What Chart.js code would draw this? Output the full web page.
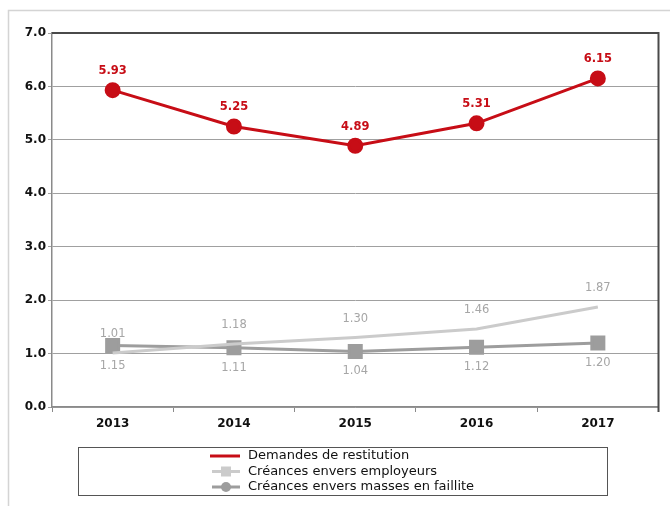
<!DOCTYPE html>
<html>
<head>
<meta charset="utf-8">
<script src="https://cdn.jsdelivr.net/npm/chart.js@4"></script>
<style>
  html, body { margin: 0; padding: 0; background: #fff; }
  #wrap { width: 670px; height: 506px; position: relative; }
</style>
</head>
<body>
<div id="wrap"><canvas id="js_chart" width="670" height="506"></canvas></div>
<script>
// chart data
const years = ['2013', '2014', '2015', '2016', '2017'];
const restitution = [5.93, 5.25, 4.89, 5.31, 6.15];
const employeurs = [1.01, 1.18, 1.30, 1.46, 1.87];
const faillite = [1.15, 1.11, 1.04, 1.12, 1.20];
const seriesNames = ['Demandes de restitution', 'Créances envers employeurs', 'Créances envers masses en faillite'];

// colours
const red = '#c70d16';
const lightGrey = '#cbcbcb';
const darkGrey = '#9d9d9d';
const font = "'DejaVu Sans', sans-serif";

// value labels: offset in px above (-) or below (+) the point
const labelPlugin = {
  id: 'valueLabels',
  afterDatasetsDraw(chart) {
    const { ctx } = chart;
    const offsets = [-19, -19, 20];
    const colors = [red, '#a6a6a6', '#a6a6a6'];
    ctx.save();
    ctx.textAlign = 'center';
    ctx.textBaseline = 'middle';
    chart.data.datasets.forEach((ds, i) => {
      const meta = chart.getDatasetMeta(i);
      ctx.font = (i === 0 ? 'bold ' : '') + '11.5px ' + font;
      ctx.fillStyle = colors[i];
      meta.data.forEach((pt, j) => {
        ctx.fillText(ds.data[j].toFixed(2), pt.x, pt.y + offsets[i]);
      });
    });
    ctx.restore();
  },
};

// page frame, plot frame and the boxed legend
const framePlugin = {
  id: 'frames',
  beforeDraw(chart) {
    const { ctx } = chart;
    ctx.save();
    ctx.strokeStyle = '#d4d4d4';
    ctx.lineWidth = 1.5;
    ctx.beginPath();
    ctx.moveTo(8.5, 506);
    ctx.lineTo(8.5, 10.5);
    ctx.lineTo(670, 10.5);
    ctx.stroke();
    ctx.restore();
  },
  afterDraw(chart) {
    const { ctx, chartArea: a } = chart;
    ctx.save();
    ctx.strokeStyle = '#4a4a4a';
    ctx.lineWidth = 2;
    ctx.beginPath();
    ctx.moveTo(a.left, a.top);
    ctx.lineTo(a.right, a.top);
    ctx.lineTo(a.right, a.bottom + 5);
    ctx.stroke();

    // legend
    ctx.lineWidth = 1;
    ctx.strokeStyle = '#555';
    ctx.strokeRect(78.5, 447.5, 529, 48);
    const styles = [
      { color: red, marker: null },
      { color: lightGrey, marker: 'rect' },
      { color: darkGrey, marker: 'circle' },
    ];
    ctx.font = '13px ' + font;
    ctx.textBaseline = 'middle';
    seriesNames.forEach((name, i) => {
      const y = 456 + i * 15.5;
      const s = styles[i];
      ctx.strokeStyle = s.color;
      ctx.lineWidth = 3;
      ctx.beginPath();
      ctx.moveTo(i === 0 ? 210 : 212, y);
      ctx.lineTo(240, y);
      ctx.stroke();
      ctx.fillStyle = s.color;
      if (s.marker === 'rect') ctx.fillRect(221, y - 5, 10, 10);
      if (s.marker === 'circle') {
        ctx.beginPath();
        ctx.arc(226, y, 5, 0, Math.PI * 2);
        ctx.fill();
      }
      ctx.fillStyle = '#111';
      ctx.fillText(name, 248, y);
    });
    ctx.restore();
  },
};

document.addEventListener('DOMContentLoaded', () => {
  const ctx = document.getElementById('js_chart');
  new Chart(ctx, {
    type: 'line',
    data: {
      labels: years,
      datasets: [{
        label: seriesNames[0],
        data: restitution,
        borderColor: red,
        backgroundColor: red,
        borderWidth: 3,
        pointRadius: 6.5,
        pointStyle: 'circle',
      }, {
        label: seriesNames[1],
        data: employeurs,
        borderColor: lightGrey,
        backgroundColor: lightGrey,
        borderWidth: 3,
        pointRadius: 0,
      }, {
        label: seriesNames[2],
        data: faillite,
        borderColor: darkGrey,
        backgroundColor: darkGrey,
        borderWidth: 3,
        pointRadius: 8.5,
        pointStyle: 'rect',
      }],
    },
    options: {
      responsive: false,
      animation: false,
      layout: { padding: { top: 33, right: 9, left: 8, bottom: 69 } },
      plugins: {
        legend: { display: false },
        tooltip: { enabled: false },
      },
      scales: {
        x: {
          offset: true,
          grid: {
            offset: true,
            drawOnChartArea: false,
            color: '#8a8a8a',
            tickLength: 5,
          },
          border: { color: '#8a8a8a', width: 1.5 },
          ticks: {
            color: '#111',
            font: { family: font, size: 12, weight: 'bold' },
            padding: 5,
          },
          afterFit: (scale) => { scale.height = 30; },
        },
        y: {
          min: 0,
          max: 7,
          grid: { color: '#a0a0a0', tickLength: 4 },
          border: { color: '#8a8a8a', width: 1.5 },
          ticks: {
            stepSize: 1,
            color: '#111',
            font: { family: font, size: 12, weight: 'bold' },
            padding: 2,
            callback: (v) => v.toFixed(1),
          },
          afterFit: (scale) => { scale.width = 44; },
        },
      },
    },
    plugins: [labelPlugin, framePlugin],
  });
});
</script>
</body>
</html>
